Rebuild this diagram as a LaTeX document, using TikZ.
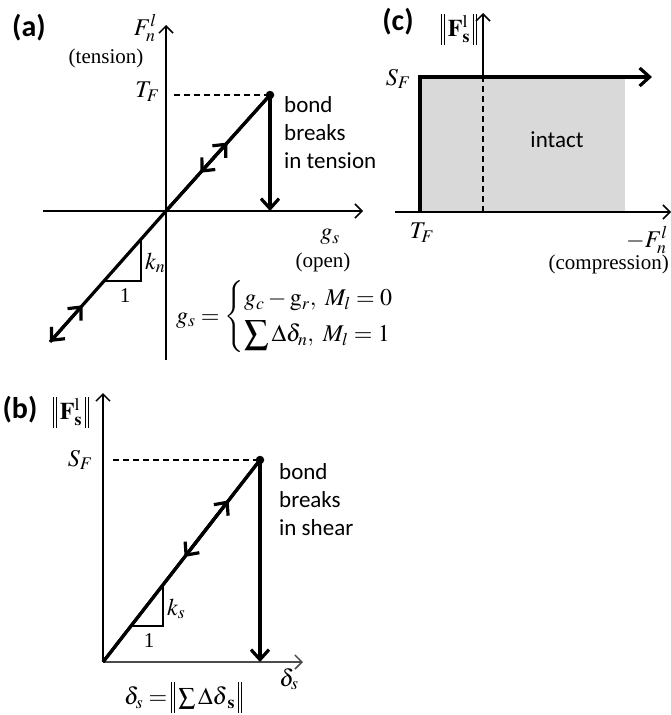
\documentclass[tikz,border=0pt]{standalone}
\usepackage{amsmath}
\usepackage{mathptmx}
\usepackage{fontspec}
\setmainfont{Liberation Serif}
\newfontfamily\calib{Carlito}
\usetikzlibrary{arrows.meta,calc}
\newcommand{\nbar}{\rule[-8pt]{0.9pt}{31pt}\hspace{2.2pt}\rule[-8pt]{0.9pt}{31pt}}
\tikzset{
  axisln/.style={line width=1.5pt,-{Straight Barb[length=7pt,width=14pt]}},
  thickln/.style={line width=3.2pt},
  tipped/.style={-{Straight Barb[length=10pt,width=18pt]}},
  dashln/.style={line width=1.4pt,dash pattern=on 6pt off 4pt},
  thinln/.style={line width=1.3pt},
  lbl/.style={font=\fontsize{21}{25}\selectfont,inner sep=0pt},
  mlbl/.style={font=\fontsize{24}{28}\selectfont,inner sep=0pt},
  txt/.style={font=\calib\fontsize{23}{28}\selectfont,align=left,inner sep=0pt},
  panel/.style={font=\calib\bfseries\fontsize{30}{32}\selectfont,inner sep=0pt},
  dotnode/.style={circle,fill=black,inner sep=0pt,minimum size=8.5pt}
}
\begin{document}
\begin{tikzpicture}[x=1pt,y=-1pt]
\useasboundingbox (0,0) rectangle (671,715);
% ---------------- panel (a) ----------------
\coordinate (Oa) at (166,211);
\coordinate (Pa) at (270,95);
\coordinate (La) at (50,342);
\coordinate (aYb) at (166,360);
\coordinate (aYt) at (166,25);
\coordinate (aXl) at (43,211);
\coordinate (aXr) at (363,211);
\coordinate (aD) at (174,95);
\coordinate (aB) at (270,211);
\draw[axisln] (aYb) -- (aYt);
\draw[axisln] (aXl) -- (aXr);
\draw[dashln] (aD) -- (Pa);
\draw[thickln] (Oa) -- (Pa);
\draw[thickln,tipped] (Oa) -- (La);
\draw[thickln,tipped] (Oa) -- ($(Oa)!0.59!(Pa)$);
\draw[thickln,tipped] (Pa) -- ($(Oa)!0.33!(Pa)$);
\draw[thickln,tipped] (La) -- ($(La)!0.28!(Oa)$);
\draw[thickln,tipped] (Pa) -- (aB);
\node[dotnode] (dota) at (Pa) {};
\coordinate (ta1) at (141,239);
\coordinate (ta2) at (141,281);
\coordinate (ta3) at (105,281);
\draw[thinln] (ta1) -- (ta2) -- (ta3);
\node[mlbl,anchor=west] (kn) at (145,263) {$k_n$};
\node[lbl] (onea) at (125,296) {1};
\node[panel] (pa) at (29,28) {(a)};
\node[mlbl,anchor=east] (Fn) at (157,28) {$F_n^l$};
\node[lbl] (tens) at (106,58) {(tension)};
\node[mlbl,anchor=east] (TFa) at (160,92) {$T_F$};
\node[txt,anchor=north west] (bbt) at (284,96) {bond\\breaks\\in tension};
\node[mlbl] (gs) at (330,237) {$g_s$};
\node[lbl] (open) at (323,262) {(open)};
\node[mlbl,anchor=west] (eq) at (176,317) {$g_s=\begin{cases} g_c-\mathrm{g}_r,\ M_l=0\\[2pt] \displaystyle\sum\Delta\delta_n,\ M_l=1\end{cases}$};
% ---------------- panel (b) ----------------
\coordinate (Ob) at (103,662);
\coordinate (Pb) at (260,460);
\coordinate (bYt) at (103,393);
\coordinate (bXr) at (303,662);
\coordinate (bD) at (113,460);
\coordinate (bB) at (260,662);
\draw[axisln] (Ob) -- (bYt);
\draw[axisln,black!70] (Ob) -- (bXr);
\draw[dashln] (bD) -- (Pb);
\draw[thickln] (Ob) -- (Pb);
\draw[thickln,tipped] (Ob) -- ($(Ob)!0.80!(Pb)$);
\draw[thickln,tipped] (Pb) -- ($(Ob)!0.52!(Pb)$);
\draw[thickln,tipped] (Pb) -- (bB);
\node[dotnode] (dotb) at (Pb) {};
\coordinate (tb1) at (163,585);
\coordinate (tb2) at (163,626);
\coordinate (tb3) at (131,626);
\draw[thinln] (tb1) -- (tb2) -- (tb3);
\node[mlbl,anchor=west] (ks) at (167,609) {$k_s$};
\node[lbl] (oneb) at (149,641) {1};
\node[panel] (pb) at (20,410) {(b)};
\node[mlbl] (Fsb) at (71,412) {\nbar\hspace{3pt}$\mathbf{F}_{\mathbf{s}}^{\mathrm{l}}$\hspace{3pt}\nbar};
\node[mlbl,anchor=east] (SFb) at (93,460) {$S_F$};
\node[txt,anchor=north west] (bbs) at (279,463) {bond\\breaks\\in shear};
\node[mlbl] (ds) at (289,679) {$\delta_s$};
\node[mlbl] (dseq) at (183,697) {$\delta_s=$\hspace{4pt}\nbar\hspace{3pt}$\sum\Delta\boldsymbol{\delta}_{\mathbf{s}}$\hspace{3pt}\nbar};
% ---------------- panel (c) ----------------
\coordinate (cO) at (483,212);
\coordinate (cS) at (483,77);
\coordinate (cYt) at (483,13);
\coordinate (cXl) at (395,212);
\coordinate (cXr) at (671,212);
\coordinate (cBL) at (420,212);
\coordinate (cTL) at (420,77);
\coordinate (cTR) at (652,77);
\coordinate (cGR) at (625,212);
\fill[black!15] (cTL) rectangle (cGR);
\draw[axisln] (cXl) -- (cXr);
\draw[axisln] (cS) -- (cYt);
\draw[dashln] (cO) -- (cS);
\draw[thickln,tipped] (cBL) -- (cTL) -- (cTR);
\node[panel] (pc) at (398,22) {(c)};
\node[mlbl] (Fsc) at (459,29) {\nbar\hspace{3pt}$\mathbf{F}_{\mathbf{s}}^{\mathrm{l}}$\hspace{3pt}\nbar};
\node[mlbl,anchor=east] (SFc) at (411,79) {$S_F$};
\node[mlbl] (TFc) at (422,233) {$T_F$};
\node[mlbl,anchor=east] (Fnc) at (668,240) {$-F_n^l$};
\node[lbl,anchor=east] (comp) at (669,264) {(compression)};
\node[txt] (intact) at (557,140) {intact};
\end{tikzpicture}
\end{document}
